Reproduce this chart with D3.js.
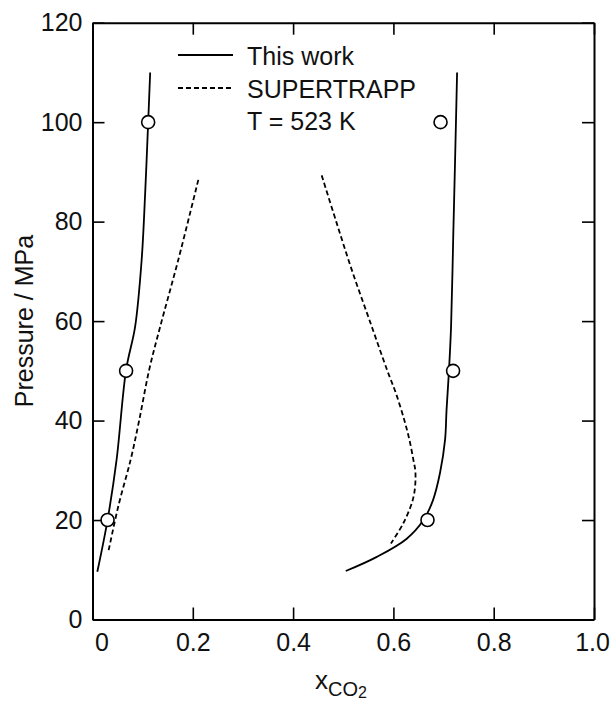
<!DOCTYPE html>
<html>
<head>
<meta charset="utf-8">
<script src="https://cdn.jsdelivr.net/npm/d3@7"></script>
<style>
    body { margin: 0; background: #fff; }
    svg { font-family: "Liberation Sans", Arial, Helvetica, sans-serif; }
</style>
</head>
<body>
<div id="chart"></div>
<script>
// pressure (MPa) and CO2 mole fraction
var thisWorkLeftP = [110, 100, 85.7, 72.3, 58.9, 50.2, 32.1, 20, 9.6];
var thisWorkLeftX = [0.115, 0.111, 0.105, 0.098, 0.085, 0.067, 0.048, 0.030, 0.0096];

var thisWorkRightP = [110, 92.4, 77.8, 58.9, 50.4, 42.2, 36.1, 29.5, 24, 20, 16.2, 12.6, 9.75];
var thisWorkRightX = [0.727, 0.723, 0.7195, 0.715, 0.711, 0.706, 0.703, 0.693, 0.679, 0.660, 0.626, 0.567, 0.505];

var superLeftP = [88.4, 72.3, 58.9, 50.2, 40, 32.1, 23, 13.6];
var superLeftX = [0.211, 0.171, 0.135, 0.113, 0.093, 0.076, 0.052, 0.0315];

var superRightP = [89.3, 80, 70, 60, 50, 45.5, 40, 36.1, 32, 29.5, 24.6, 19.4, 15.3];
var superRightX = [0.457, 0.486, 0.518, 0.553, 0.588, 0.605, 0.622, 0.632, 0.640, 0.644, 0.640, 0.620, 0.595];

var expP = [100, 50, 20, 100, 50, 20];
var expX = [0.111, 0.067, 0.030, 0.694, 0.719, 0.668];

var xTicks = [0, 0.2, 0.4, 0.6, 0.8, 1.0];
var xTickLabels = ["0", "0.2", "0.4", "0.6", "0.8", "1.0"];
var yTicks = [0, 20, 40, 60, 80, 100, 120];

function zip(xs, ps) {
    return xs.map(function(d, i) { return [d, ps[i]]; });
}

function init() {

    var W = 611;
    var H = 703;
    var margin = {top: 22.7, right: 17, bottom: 83.5, left: 92.5};
    var w = W - margin.left - margin.right;
    var h = H - margin.top - margin.bottom;

    var svg = d3.select("#chart")
                .append("svg")
                .attr("width", W)
                .attr("height", H);

    var g = svg.append("g")
               .attr("transform", "translate(" + margin.left + "," + margin.top + ")");

    var xScale = d3.scaleLinear().domain([0, 1]).range([0, w]);
    var yScale = d3.scaleLinear().domain([0, 120]).range([h, 0]);

    // axes, ticks pointing inward
    var bottom = g.append("g")
        .attr("transform", "translate(0," + h + ")")
        .call(d3.axisBottom(xScale).tickValues(xTicks)
              .tickFormat(function(d, i) { return xTickLabels[i]; })
              .tickSizeInner(-12).tickSizeOuter(0).tickPadding(14));
    bottom.selectAll("text").filter(function(d) { return d === 0; }).attr("dx", 9);
    bottom.selectAll("text").filter(function(d) { return d === 1; }).attr("dx", -2);

    g.append("g")
        .call(d3.axisTop(xScale).tickValues(xTicks).tickFormat("")
              .tickSizeInner(-12).tickSizeOuter(0));

    g.append("g")
        .call(d3.axisLeft(yScale).tickValues(yTicks)
              .tickSizeInner(-12).tickSizeOuter(0).tickPadding(10));

    g.append("g")
        .attr("transform", "translate(" + w + ",0)")
        .call(d3.axisRight(yScale).tickValues(yTicks).tickFormat("")
              .tickSizeInner(-12).tickSizeOuter(0));

    g.selectAll(".domain").attr("stroke", "#000").attr("stroke-width", 2);
    g.selectAll(".tick line").attr("stroke", "#000").attr("stroke-width", 1.6);
    g.selectAll(".tick text").attr("font-size", 25).attr("fill", "#111")
     .attr("font-family", "'Liberation Sans', Arial, sans-serif");

    var line = d3.line()
                 .x(function(d) { return xScale(d[0]); })
                 .y(function(d) { return yScale(d[1]); })
                 .curve(d3.curveCatmullRom.alpha(0.5));

    var curves = [
        {data: zip(thisWorkLeftX, thisWorkLeftP), dash: null},
        {data: zip(thisWorkRightX, thisWorkRightP), dash: null},
        {data: zip(superLeftX, superLeftP), dash: "5,3"},
        {data: zip(superRightX, superRightP), dash: "5,3"}
    ];

    g.selectAll("path.curve")
        .data(curves)
        .enter()
        .append("path")
        .attr("class", "curve")
        .attr("d", function(d) { return line(d.data); })
        .attr("fill", "none")
        .attr("stroke", "#000")
        .attr("stroke-width", 1.8)
        .attr("stroke-dasharray", function(d) { return d.dash; });

    g.selectAll("circle")
        .data(zip(expX, expP))
        .enter()
        .append("circle")
        .attr("cx", function(d) { return xScale(d[0]); })
        .attr("cy", function(d) { return yScale(d[1]); })
        .attr("r", 6.5)
        .attr("fill", "#fff")
        .attr("stroke", "#000")
        .attr("stroke-width", 1.6);

    // legend
    svg.append("line").attr("x1", 178).attr("x2", 233).attr("y1", 55).attr("y2", 55)
       .attr("stroke", "#000").attr("stroke-width", 1.8);
    svg.append("line").attr("x1", 178).attr("x2", 233).attr("y1", 88).attr("y2", 88)
       .attr("stroke", "#000").attr("stroke-width", 1.8).attr("stroke-dasharray", "5,3");

    var legendText = ["This work", "SUPERTRAPP", "T = 523 K"];
    svg.selectAll("text.legend")
       .data(legendText)
       .enter()
       .append("text")
       .attr("class", "legend")
       .attr("x", 247)
       .attr("y", function(d, i) { return 65 + i * 32.5; })
       .attr("font-size", 25)
       .attr("fill", "#111")
       .text(function(d) { return d; });

    // axis titles
    svg.append("text")
       .attr("transform", "rotate(-90)")
       .attr("x", -(margin.top + h / 2))
       .attr("y", 33)
       .attr("text-anchor", "middle")
       .attr("font-size", 25)
       .attr("fill", "#111")
       .text("Pressure / MPa");

    var xl = svg.append("text")
                .attr("x", 315)
                .attr("y", 689)
                .attr("fill", "#111");
    xl.append("tspan").attr("font-size", 26).text("x");
    xl.append("tspan").attr("font-size", 20).attr("dy", 7).text("CO");
    xl.append("tspan").attr("font-size", 16).attr("dy", 2).text("2");
}

window.onload = init;
</script>
</body>
</html>
